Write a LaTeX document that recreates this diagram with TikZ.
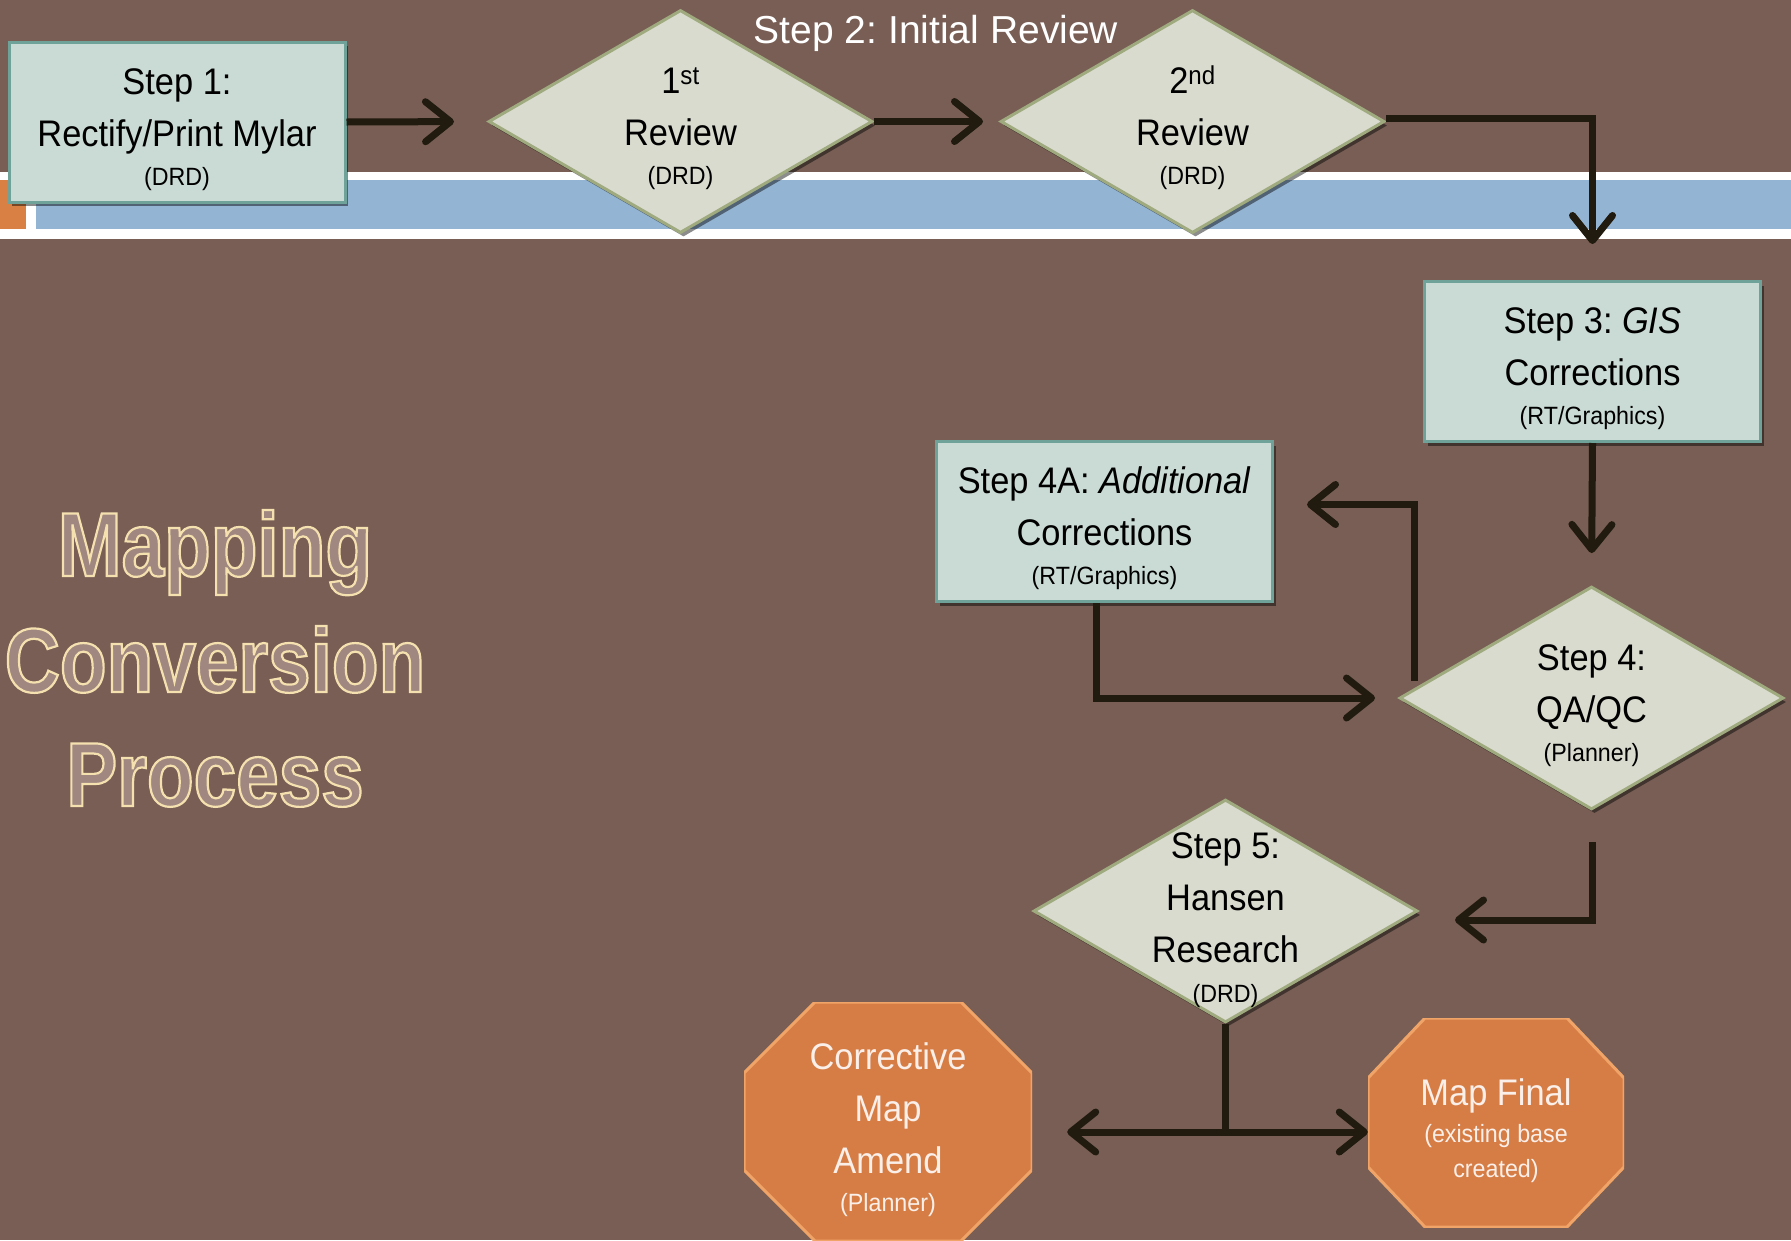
\documentclass[tikz,border=0pt]{standalone}
\usepackage{fontspec}
\setmainfont{Liberation Sans}
\newfontfamily\boxfont[FakeStretch=0.93]{Liberation Sans}
\newfontfamily\titlefont[FakeStretch=0.84]{Liberation Sans Bold}
\usetikzlibrary{shapes.geometric,shadows,arrows.meta}
\frenchspacing

\definecolor{bgbrown}{HTML}{785E54}
\definecolor{bandblue}{HTML}{93B4D2}
\definecolor{bandorange}{HTML}{D98045}
\definecolor{boxfill}{HTML}{CADBD6}
\definecolor{boxedge}{HTML}{6FA298}
\definecolor{dmdfill}{HTML}{D9DBCF}
\definecolor{dmdedge}{HTML}{9FAA7E}
\definecolor{octfill}{HTML}{D67D45}
\definecolor{octedge}{HTML}{F0A468}
\definecolor{octtext}{HTML}{FBEFEA}
\definecolor{flowcol}{HTML}{211A0E}
\definecolor{titlefill}{HTML}{A08880}

\newcommand{\smalltext}{\fontsize{25}{39}\selectfont}
\newcommand{\steplines}[3]{\rule{0pt}{41pt}#1\\#2\\[-13pt]{\smalltext\rule[-6pt]{0pt}{6pt}#3}}
% cream outline round the title letters
\newcommand{\outlined}[1]{\special{pdf:literal direct q 2 Tr 2.2 w 0.961 0.878 0.690 RG}#1\special{pdf:literal direct Q}}

\tikzset{
  boxshadow/.style={drop shadow={shadow xshift=3pt,shadow yshift=-4pt,opacity=.45,fill=black}},
  stepbox/.style={rectangle, draw=boxedge, fill=boxfill, line width=3pt,
    minimum width=336pt, minimum height=160pt, inner sep=0pt, boxshadow},
  review/.style={diamond, draw=dmdedge, fill=dmdfill, line width=3pt,
    minimum width=384pt, minimum height=223pt, inner sep=0pt, boxshadow},
  octagon/.style 2 args={rectangle, inner sep=0pt, path picture={
    \filldraw[fill=octfill, draw=octedge, line width=3pt]
      ([xshift=#1]path picture bounding box.north west) -- ([xshift=-#1]path picture bounding box.north east)
      -- ([yshift=-#2]path picture bounding box.north east) -- ([yshift=#2]path picture bounding box.south east)
      -- ([xshift=-#1]path picture bounding box.south east) -- ([xshift=#1]path picture bounding box.south west)
      -- ([yshift=#2]path picture bounding box.south west) -- ([yshift=-#2]path picture bounding box.north west) -- cycle;}},
  steptext/.style={font=\boxfont\fontsize{37}{52}\selectfont, align=center, inner sep=0pt, text=black},
  octlabel/.style={steptext, text=octtext},
  steptitle/.style={font=\fontsize{39}{46}\selectfont, text=white, anchor=base, inner sep=0pt},
  titletext/.style={font=\titlefont\fontsize{91}{110}\selectfont, anchor=base, inner sep=0pt, text=titlefill},
  flow/.style={draw=flowcol, line width=7pt, -{Straight Barb[length=25pt,width=40pt,round]}},
  flowline/.style={draw=flowcol, line width=7pt}
}

\begin{document}
\begin{tikzpicture}[x=1pt,y=-1pt]
\fill[bgbrown] (0,0) rectangle (1791,1240);
\useasboundingbox (0,0) rectangle (1791,1240);

% band across the top
\fill[white] (0,172) rectangle (1791,239);
\fill[bandorange] (0,180) rectangle (26,229);
\fill[bandblue] (36,180) rectangle (1791,229);

% title
\node[titletext] (tmap) at (215,576) {\outlined{Mapping}};
\node[titletext] (tconv) at (215,692) {\outlined{Conversion}};
\node[titletext] (tproc) at (215,806) {\outlined{Process}};

% steps
\node[stepbox, label={[steptext]center:{\steplines{Step 1:}{Rectify/Print Mylar}{(DRD)}}}] (s1) at (177,122) {};
\node[review, label={[steptext]center:{\steplines{1\textsuperscript{st}}{Review}{(DRD)}}}] (r1) at (680.5,121.5) {};
\node[review, label={[steptext]center:{\steplines{2\textsuperscript{nd}}{Review}{(DRD)}}}] (r2) at (1192.5,121.5) {};
\node[steptitle] (t2) at (936,43) {Step 2: Initial Review};
\node[stepbox, label={[steptext]center:{\steplines{Step 3: \textit{GIS}}{Corrections}{(RT/Graphics)}}}] (s3) at (1592.5,361.5) {};
\node[stepbox, label={[steptext]center:{\steplines{Step 4A: \textit{Additional}}{Corrections}{(RT/Graphics)}}}] (s4a) at (1104.5,521.5) {};
\node[review, label={[steptext]center:{\steplines{Step 4:}{QA/QC}{(Planner)}}}] (q4) at (1591.5,698) {};
\node[review, label={[steptext]center:{\rule{0pt}{44pt}Step 5:\\Hansen\\Research\\[-12pt]{\smalltext\rule[-6pt]{0pt}{6pt}(DRD)}}}] (s5) at (1225.5,911) {};

% outcomes
\node[octagon={71pt}{71pt}, minimum width=288pt, minimum height=239pt,
  label={[octlabel]center:{\rule{0pt}{44pt}Corrective\\Map\\Amend\\[-14pt]{\smalltext\rule[-6pt]{0pt}{6pt}(Planner)}}}] (cma) at (888,1121.5) {};
\node[octagon={57pt}{60pt}, minimum width=256pt, minimum height=209pt,
  label={[octlabel]center:{\rule{0pt}{43pt}Map Final\\[-15pt]{\smalltext(existing base}\\[-17pt]{\smalltext\rule[-6pt]{0pt}{6pt}created)}}}] (mf) at (1496,1122.5) {};

% connectors
\draw[flow, shorten >=33pt] (s1.east) -- (r1.west);
\draw[flow, shorten >=16pt] (r1.east) -- (r2.west);
\draw[flow, shorten >=36pt] ([shift={(0,-3)}]r2.east) -| (s3.north);
\draw[flow, shorten >=32pt] (s3.south) -- (q4.north);
\draw[flow, shorten >=33pt] ([shift={(16,-17)}]q4.west) |- ([shift={(0,-17)}]s4a.east);
\draw[flow, shorten >=23pt] ([shift={(-8,0)}]s4a.south) |- (q4.west);
\draw[flow, shorten >=36pt] ([shift={(1,31)}]q4.south) |- ([shift={(0,9)}]s5.east);
\coordinate (fork) at ([shift={(0,108)}]s5.south);
\draw[flowline] (s5.south) -- (fork);
\draw[flow, shorten >=35pt] (fork) -- (fork -| cma.east);
\draw[flow] (fork) -- (fork -| mf.west);
\end{tikzpicture}
\end{document}
